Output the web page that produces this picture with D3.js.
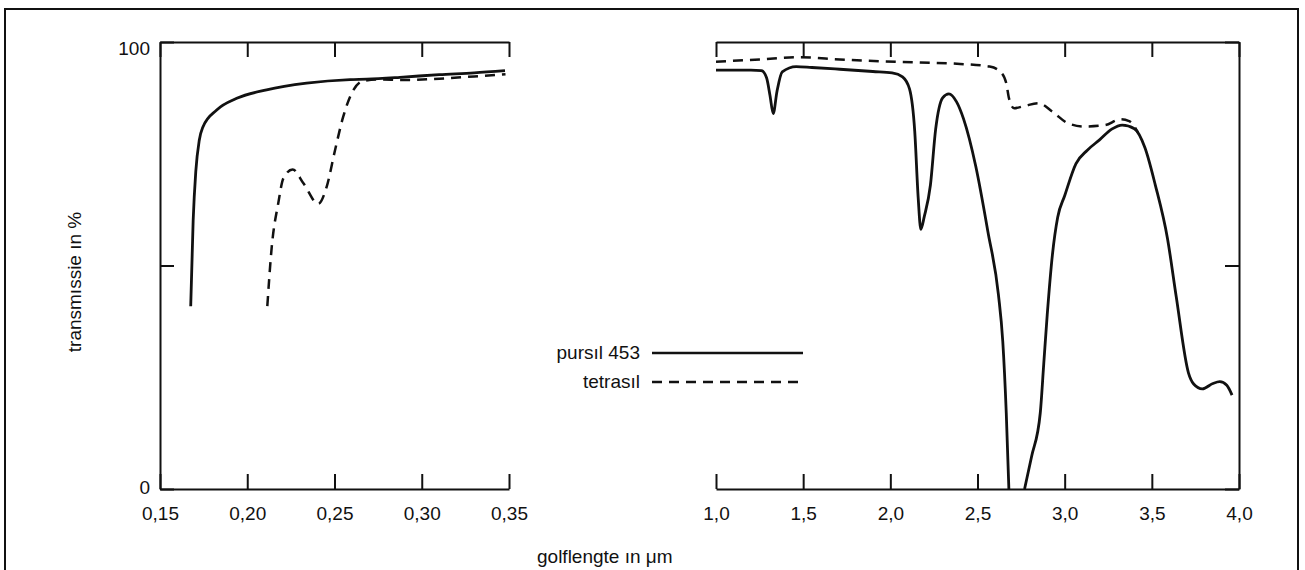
<!DOCTYPE html>
<html>
<head>
<meta charset="utf-8">
<script src="https://cdn.jsdelivr.net/npm/d3@7"></script>
<style>
  html, body { margin: 0; padding: 0; background: #fff; }
  svg { display: block; }
  text { font-family: "Liberation Sans", Arial, sans-serif; fill: #111; }
</style>
</head>
<body>
<script>
// left panel: ultraviolet range (µm)
var uvTicks = [0.15, 0.20, 0.25, 0.30, 0.35];
var uvPursilX = [0.1676, 0.169, 0.1705, 0.1725, 0.1746, 0.1825, 0.194, 0.2111, 0.234, 0.2589, 0.2686, 0.2875, 0.31, 0.33, 0.3477];
var uvPursilT = [40.9, 60, 71, 78, 81, 84.8, 87.4, 89.3, 90.8, 91.6, 91.7, 92.1, 92.7, 93.1, 93.6];
var uvTetraX = [0.2115, 0.214, 0.2178, 0.2207, 0.226, 0.2322, 0.2407, 0.2455, 0.2503, 0.255, 0.2598, 0.2665, 0.275, 0.29, 0.31, 0.33, 0.348];
var uvTetraT = [40.9, 54, 64, 69.5, 71.5, 68.4, 63.8, 67.6, 75.8, 83.3, 88.5, 91.3, 91.6, 91.5, 91.8, 92.3, 92.8];

// right panel: infrared range (µm)
var irTicks = [1.0, 1.5, 2.0, 2.5, 3.0, 3.5, 4.0];
var irPursilX = [1.00, 1.20, 1.26, 1.29, 1.31, 1.328, 1.35, 1.38, 1.46, 1.55, 1.71, 1.90, 2.01, 2.07, 2.11, 2.14, 2.16, 2.175, 2.195, 2.23, 2.26, 2.30, 2.336, 2.38, 2.42, 2.49, 2.56, 2.62, 2.645, 2.665, 2.68,
                 2.72,
                 2.77, 2.81, 2.86, 2.88, 2.90, 2.93, 2.96, 3.00, 3.065, 3.13, 3.20, 3.27, 3.33, 3.40, 3.46, 3.52, 3.59, 3.64, 3.71, 3.74, 3.79, 3.85, 3.89, 3.93, 3.96];
var irPursilT = [93.7, 93.7, 93.6, 92.0, 88.0, 84.0, 89.0, 93.3, 94.5, 94.3, 93.9, 93.4, 93.1, 92.2, 89.5, 80.0, 65.0, 58.1, 61.0, 68.0, 80.5, 87.5, 88.4, 86.6, 82.8, 72.2, 57.5, 43.5, 33.0, 17.0, 0,
                 null,
                 0, 7.2, 17.0, 28.0, 39.0, 52.5, 60.8, 65.6, 72.8, 75.8, 78.1, 80.5, 81.4, 80.6, 76.4, 68.0, 56.0, 43.0, 26.0, 23.5, 22.4, 23.6, 24.0, 23.2, 21.0];
var irTetraX = [1.00, 1.25, 1.48, 1.71, 1.94, 2.17, 2.40, 2.57, 2.63, 2.665, 2.68, 2.71, 2.77, 2.85, 2.93, 3.02, 3.11, 3.23, 3.32, 3.37, 3.42];
var irTetraT = [95.6, 96.1, 96.6, 96.1, 95.7, 95.4, 95.1, 94.5, 93.4, 90.8, 87.5, 85.2, 85.7, 86.3, 84.4, 81.8, 81.1, 81.4, 82.7, 82.3, 79.8];

var yTicks = [0, 50, 100];
var seriesNames = ["pursıl 453", "tetrasıl"];

var W = 1305, H = 570;
var plotTop = 42, plotBottom = 489;
var fontSize = 19;

var svg = d3.select("body").append("svg")
    .attr("width", W)
    .attr("height", H);

// outer frame (bottom edge runs off the page)
svg.append("path")
    .attr("d", "M5," + H + "V9H1298V" + H)
    .attr("fill", "none")
    .attr("stroke", "#111")
    .attr("stroke-width", 2);

var y = d3.scaleLinear().domain([0, 100]).range([plotBottom, plotTop]);
var xUV = d3.scaleLinear().domain([0.15, 0.35]).range([160, 509]);
var xIR = d3.scaleLinear().domain([1, 4]).range([716, 1239]);

var comma = d => d3.format(".2f")(d).replace(".", ",");
var comma1 = d => d3.format(".1f")(d).replace(".", ",");

function styleAxis(g) {
    g.selectAll("path, line").attr("stroke", "#111").attr("stroke-width", 2);
    g.selectAll("text").attr("font-size", fontSize).attr("fill", "#111")
        .attr("font-family", "'Liberation Sans', Arial, sans-serif");
}

function drawPanel(x, ticks, fmt) {
    var gb = svg.append("g").attr("transform", "translate(0," + plotBottom + ")")
        .call(d3.axisBottom(x).tickValues(ticks).tickSizeInner(-15).tickSizeOuter(0).tickPadding(18).tickFormat(fmt));
    gb.call(styleAxis);
    var gt = svg.append("g").attr("transform", "translate(0," + plotTop + ")")
        .call(d3.axisTop(x).tickValues(ticks).tickSizeInner(-15).tickSizeOuter(0).tickFormat(""));
    gt.call(styleAxis);
}

drawPanel(xUV, uvTicks, comma);
drawPanel(xIR, irTicks, comma1);

// left y axis with labels
var gl = svg.append("g").attr("transform", "translate(160,0)")
    .call(d3.axisLeft(y).tickValues(yTicks).tickSizeInner(-14).tickSizeOuter(0).tickPadding(10)
        .tickFormat(d => d === 50 ? "" : d));
gl.call(styleAxis);
gl.selectAll("text").attr("dy", d => d === 100 ? 12 : 4);

// right y axis of the infrared panel
var gr = svg.append("g").attr("transform", "translate(1239,0)")
    .call(d3.axisRight(y).tickValues(yTicks).tickSizeInner(-14).tickSizeOuter(0).tickFormat(""));
gr.call(styleAxis);

// curves
function drawCurve(x, xs, ts, dashed) {
    var pts = xs.map((v, i) => ({ x: v, t: ts[i] }));
    var line = d3.line()
        .defined(d => d.t !== null)
        .x(d => x(d.x))
        .y(d => y(d.t))
        .curve(d3.curveMonotoneX);
    svg.append("path")
        .datum(pts)
        .attr("d", line)
        .attr("fill", "none")
        .attr("stroke", "#111")
        .attr("stroke-width", dashed ? 2.5 : 2.8)
        .attr("stroke-dasharray", dashed ? "10,7" : null)
        .attr("stroke-linejoin", "round");
}

drawCurve(xUV, uvPursilX, uvPursilT, false);
drawCurve(xUV, uvTetraX, uvTetraT, true);
drawCurve(xIR, irPursilX, irPursilT, false);
drawCurve(xIR, irTetraX, irTetraT, true);

// legend
var legend = svg.append("g").attr("class", "legend");
seriesNames.forEach(function (name, i) {
    var ly = 353 + i * 29;
    legend.append("text")
        .attr("x", 640)
        .attr("y", ly + 6)
        .attr("text-anchor", "end")
        .attr("font-size", fontSize)
        .text(name);
    legend.append("line")
        .attr("x1", 652).attr("x2", 803)
        .attr("y1", ly).attr("y2", ly)
        .attr("stroke", "#111")
        .attr("stroke-width", i === 0 ? 2.4 : 2.4)
        .attr("stroke-dasharray", i === 0 ? null : "10,7");
});

// axis titles
svg.append("text")
    .attr("transform", "translate(81,282) rotate(-90)")
    .attr("text-anchor", "middle")
    .attr("font-size", fontSize)
    .text("transmıssie ın %");

svg.append("text")
    .attr("x", 537)
    .attr("y", 563)
    .attr("font-size", fontSize)
    .text("golflengte ın \u03BCm");
</script>
</body>
</html>
